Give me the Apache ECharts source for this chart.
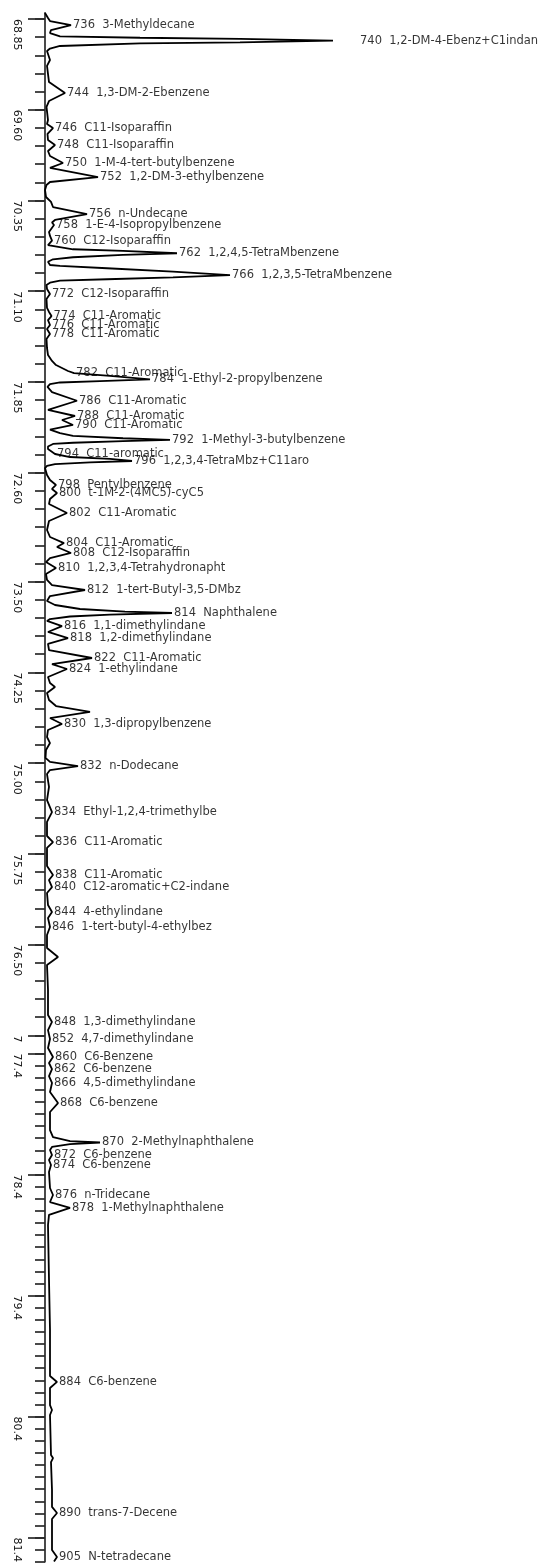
<!DOCTYPE html>
<html><head><meta charset="utf-8">
<script src="https://cdn.jsdelivr.net/npm/echarts@6/dist/echarts.min.js"></script>
<style>html,body{margin:0;padding:0;background:#fff}#c{width:544px;height:1564px}</style>
</head><body><div id="c"></div>
<script>
// Retention time (min) and detector signal (arbitrary units)
const retentionTimes = [
68.800,68.842,68.867,68.900,68.941,68.966,68.982,68.993,69.005,69.015,69.029,69.043,69.051,69.073,69.094,69.114,
69.189,69.238,69.371,69.462,69.528,69.577,69.685,69.718,69.751,69.800,69.850,69.891,69.941,69.982,70.040,70.081,
70.156,70.197,70.222,70.263,70.321,70.362,70.404,70.462,70.511,70.532,70.553,70.610,70.643,70.681,70.718,
70.732,70.753,70.767,70.786,70.800,70.819,70.836,70.856,70.883,
70.891,70.910,70.938,70.966,70.985,71.001,71.013,71.029,71.048,
71.081,71.123,71.164,71.238,71.271,71.305,71.338,71.379,71.412,71.453,71.494,71.569,71.627,71.676,71.710,71.734,
71.759,71.776,71.800,71.828,71.842,71.854,71.867,71.891,71.933,72.005,72.081,72.131,72.164,72.205,72.243,
72.272,72.296,72.315,72.329,72.338,72.352,72.362,72.383,72.404,72.445,72.470,72.486,72.503,72.515,72.528,72.544,72.561,
72.619,72.660,72.701,72.734,72.767,72.817,72.858,72.933,72.999,73.073,73.131,73.181,73.214,73.263,73.305,73.338,
73.387,73.437,73.486,73.528,73.569,73.619,73.660,73.693,73.726,73.747,73.759,73.772,73.788,73.809,73.825,
73.867,73.916,73.966,74.015,74.065,74.131,74.181,74.222,74.288,74.338,74.371,74.420,74.478,74.528,74.577,74.627,
74.676,74.726,74.784,74.834,74.891,74.957,74.990,75.024,75.057,75.090,75.197,75.305,75.404,75.486,75.602,75.652,
75.701,75.850,75.924,75.966,76.024,76.073,76.172,76.230,76.280,76.354,76.420,76.528,76.602,76.668,76.875,77.081,
77.139,77.206,77.280,77.354,77.429,77.478,77.528,77.586,77.643,77.718,77.809,77.883,78.032,78.090,78.123,78.135,
78.148,78.172,78.197,78.239,78.280,78.321,78.379,78.511,78.569,78.627,78.676,78.734,78.817,79.271,79.685,80.065,
80.114,80.164,80.305,80.346,80.387,80.718,80.743,80.776,81.007,81.147,81.197,81.247,81.503,81.561,81.598
];
const signal = [
0,3,5,26,6,5,3,15,95,195,288,195,95,15,5,2,
5,2,4,20,4,1.5,3,2,8,2.5,3,10,3,5,18,5,
53,5,1.5,0,1,6,8,42,10,7,9,4,5,7,3,
5,28,78,132,78,28,8,3,5,
15,62,128,185,128,62,15,5,1.5,
2,5,1.5,2,4,6.5,3,5,2,5,1.5,2,3,7,11,17,
23,29,65,105,55,15,5,2.5,7,32,3,30,17,28,5,
15,28,78,125,78,28,8,3,3,10,25,65,87,45,10,2,0,
2,5,11,7,12,5,4,22,4,2,5,19,12,26,5,1,
11,1,2,7,40,5,2,10,35,80,127,65,25,5,2,
17,3,23,3,4,47,7,22,3,5,10,2,4,11,45,5,
17,3,2,5,1,0.5,5,33,5,2,4,2,7,2,2,8,
2,2,8,4,7,2,3,7,3,5,2,2,13,2,3,3,
7,3,5,3,8,4,7,4,7,5,13,5,5,8,25,55,
25,7,5,7,4,6,4,5,8,5,25,4,3,4,5,5,
12,5,5,7,5,6,8,6,7,7,12,7,7,12,9
];
// Peak annotations
const peakIds = [736,740,744,746,748,750,752,756,758,760,762,766,772,774,776,778,782,784,786,788,790,792,794,796,798,800,802,804,808,810,812,814,816,818,822,824,830,832,834,836,838,840,844,846,848,852,860,862,866,868,870,872,874,876,878,884,890,905];
const peakNames = ["3-Methyldecane","1,2-DM-4-Ebenz+C1indan","1,3-DM-2-Ebenzene","C11-Isoparaffin","C11-Isoparaffin","1-M-4-tert-butylbenzene","1,2-DM-3-ethylbenzene","n-Undecane","1-E-4-Isopropylbenzene","C12-Isoparaffin","1,2,4,5-TetraMbenzene","1,2,3,5-TetraMbenzene","C12-Isoparaffin","C11-Aromatic","C11-Aromatic","C11-Aromatic","C11-Aromatic","1-Ethyl-2-propylbenzene","C11-Aromatic","C11-Aromatic","C11-Aromatic","1-Methyl-3-butylbenzene","C11-aromatic","1,2,3,4-TetraMbz+C11aro","Pentylbenzene","t-1M-2-(4MC5)-cyC5","C11-Aromatic","C11-Aromatic","C12-Isoparaffin","1,2,3,4-Tetrahydronapht","1-tert-Butyl-3,5-DMbz","Naphthalene","1,1-dimethylindane","1,2-dimethylindane","C11-Aromatic","1-ethylindane","1,3-dipropylbenzene","n-Dodecane","Ethyl-1,2,4-trimethylbe","C11-Aromatic","C11-Aromatic","C12-aromatic+C2-indane","4-ethylindane","1-tert-butyl-4-ethylbez","1,3-dimethylindane","4,7-dimethylindane","C6-Benzene","C6-benzene","4,5-dimethylindane","C6-benzene","2-Methylnaphthalene","C6-benzene","C6-benzene","n-Tridecane","1-Methylnaphthalene","C6-benzene","trans-7-Decene","N-tetradecane"];
const peakTimes = [68.900,69.029,69.462,69.751,69.891,70.040,70.156,70.462,70.553,70.681,70.786,70.966,71.123,71.305,71.379,71.453,71.776,71.828,72.005,72.131,72.205,72.329,72.445,72.503,72.701,72.767,72.933,73.181,73.263,73.387,73.569,73.759,73.867,73.966,74.131,74.222,74.676,75.024,75.404,75.652,75.924,76.024,76.230,76.354,77.139,77.280,77.429,77.528,77.643,77.809,78.135,78.239,78.321,78.569,78.676,80.114,81.197,81.561];
const peakHeights = [26,288,20,8,10,18,53,42,9,7,132,185,5,6.5,5,5,29,105,32,30,28,125,10,87,11,12,22,19,26,11,40,127,17,23,47,22,17,33,7,8,8,7,7,5,7,5,8,7,7,13,55,7,6,8,25,12,12,12];
// Time axis tick labels
const tickLabelValues = [68.85,69.60,70.35,71.10,71.85,72.60,73.50,74.25,75.00,75.75,76.50,77.25,77.4,78.4,79.4,80.4,81.4];
const tickLabelTexts  = ["68.85","69.60","70.35","71.10","71.85","72.60","73.50","74.25","75.00","75.75","76.50","7","77.4","78.4","79.4","80.4","81.4"];

// minor ticks: 0.15 min steps in the upper segment, 0.1 min steps in the lower one
const minorTicks = [];
for (let k = 0; k <= 56; k++) minorTicks.push(+(68.85 + 0.15 * k).toFixed(2));
for (let k = 0; k <= 42; k++) minorTicks.push(+(77.4 + 0.1 * k).toFixed(2));

const labelDistanceOverride = {740: 26.5};

const chart = echarts.init(document.getElementById('c'), null, {renderer: 'canvas'});
const lineData = retentionTimes.map((t, i) => [signal[i], t]);
const peakData = peakIds.map((id, i) => {
  const d = {value: [peakHeights[i], peakTimes[i]], name: id + '  ' + peakNames[i]};
  if (labelDistanceOverride[id] != null) d.label = {distance: labelDistanceOverride[id]};
  return d;
});
const axisColor = '#2a2a2a';
chart.setOption({
  animation: false,
  grid: {left: 45, right: 0, top: 12.95, height: 1548.8, containLabel: false, outerBoundsMode: 'none'},
  xAxis: {type: 'value', min: 0, max: 499, show: false},
  yAxis: [
    {
      type: 'value', inverse: true, min: 68.8, max: 81.6, position: 'left',
      axisLine: {show: true, onZero: false, lineStyle: {color: axisColor, width: 1.7}},
      axisTick: {show: true, length: 17, customValues: tickLabelValues, lineStyle: {color: axisColor, width: 1.7}},
      axisLabel: {
        show: true, customValues: tickLabelValues, rotate: -90, align: 'left', verticalAlign: 'middle',
        margin: 28, fontSize: 11, fontFamily: 'DejaVu Sans', color: '#111',
        formatter: function (v) {
          for (let i = 0; i < tickLabelValues.length; i++) {
            if (Math.abs(tickLabelValues[i] - v) < 1e-6) return tickLabelTexts[i];
          }
          return '';
        }
      },
      splitLine: {show: false}
    },
    {
      type: 'value', inverse: true, min: 68.8, max: 81.6, position: 'left', offset: 0,
      axisLine: {show: false, onZero: false},
      axisTick: {show: true, length: 10, customValues: minorTicks, lineStyle: {color: axisColor, width: 1.7}},
      axisLabel: {show: false},
      splitLine: {show: false}
    }
  ],
  series: [
    {
      type: 'line', yAxisIndex: 0, data: lineData, symbol: 'none', showSymbol: false,
      smooth: false, clip: false,
      lineStyle: {color: '#000', width: 1.8}
    },
    {
      type: 'scatter', yAxisIndex: 0, data: peakData, symbolSize: 1,
      itemStyle: {color: 'rgba(0,0,0,0)'},
      label: {
        show: true, position: 'right', distance: 1.5,
        formatter: p => p.name,
        fontSize: 11.5, fontFamily: 'DejaVu Sans', color: '#000'
      },
      emphasis: {disabled: true}
    }
  ]
});
</script>
</body></html>
